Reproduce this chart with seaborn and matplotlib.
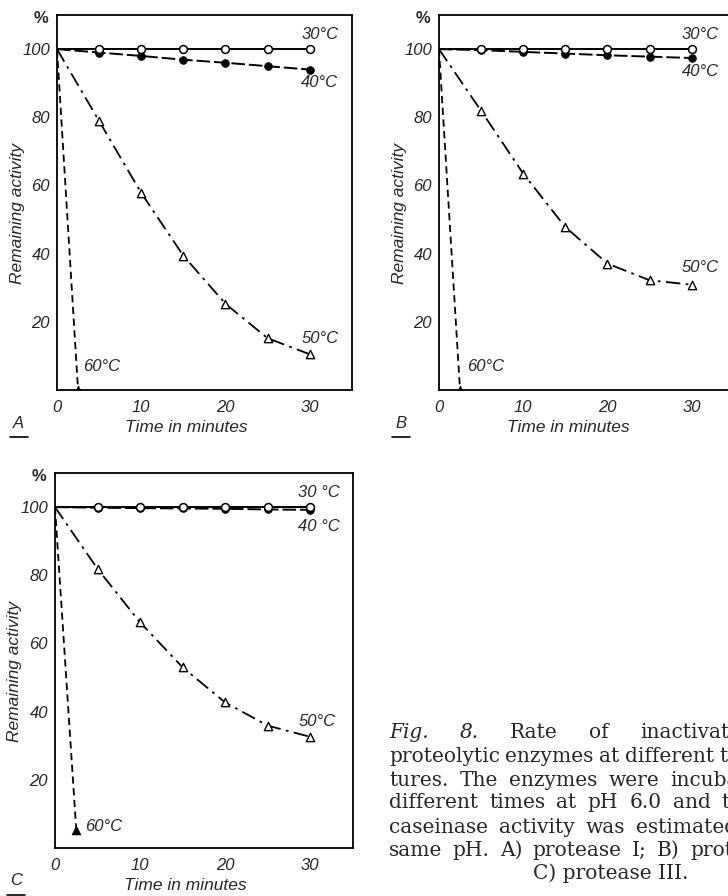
import seaborn as sns
import matplotlib.pyplot as plt
from matplotlib.lines import Line2D

# sampling times (minutes) and remaining activity (%)
times = [0, 5, 10, 15, 20, 25, 30]
times_60 = [0, 2.5]

a_30 = [100, 100, 100, 100, 100, 100, 100]
a_40 = [100, 99.0, 98.0, 96.9, 96.0, 95.0, 94.0]
a_50 = [100, 78.9, 57.8, 39.4, 25.3, 15.2, 10.5]
a_60 = [100, 0]

b_30 = [100, 100, 100, 100, 100, 100, 100]
b_40 = [100, 99.7, 99.2, 98.7, 98.2, 97.8, 97.4]
b_50 = [100, 81.9, 63.5, 47.8, 37.1, 32.2, 30.9]
b_60 = [100, 0]

c_30 = [100, 100, 100, 100, 100, 100, 100]
c_40 = [100, 99.8, 99.7, 99.6, 99.5, 99.3, 99.2]
c_50 = [100, 81.9, 66.2, 53.0, 42.7, 35.9, 32.6]
c_60 = [100, 5.4]

labels_ab = ['30°C', '40°C', '50°C', '60°C']
labels_c = ['30 °C', '40 °C', '50°C', '60°C']

caption = [
    ['Fig.', '8.', 'Rate', 'of', 'inactivation', 'of'],
    ['proteolytic', 'enzymes', 'at', 'different', 'tempera-'],
    ['tures.', 'The', 'enzymes', 'were', 'incubated', 'for'],
    ['different', 'times', 'at', 'pH', '6.0', 'and', 'then', 'the'],
    ['caseinase', 'activity', 'was', 'estimated', 'at', 'the'],
    ['same', 'pH.', 'A)', 'protease', 'I;', 'B)', 'protease', 'II;'],
]
caption_last = 'C) protease III.'

SANS = 'Liberation Sans'
FS = 12


def draw_panel(ax, letter, s30, s40, s50, s60, names, name_pos):
    # curves
    sns.lineplot(x=times, y=s30, color='black', lw=1.4, ax=ax)
    sns.lineplot(x=times, y=s40, color='black', lw=1.4,
                 linestyle=(0, (7, 2)), ax=ax)
    sns.lineplot(x=times, y=s50, color='black', lw=1.3,
                 linestyle=(0, (8, 3, 1.5, 3)), ax=ax)
    sns.lineplot(x=times_60, y=s60, color='black', lw=1.3,
                 linestyle=(0, (4, 2.5)), ax=ax)

    # markers
    sns.scatterplot(x=times[1:], y=s40[1:], marker='o', color='black',
                    s=32, edgecolor='black', zorder=3, ax=ax)
    sns.scatterplot(x=times[1:], y=s30[1:], marker='o', facecolor='white',
                    s=32, edgecolor='black', linewidth=1.1, zorder=4, ax=ax)
    sns.scatterplot(x=times[1:], y=s50[1:], marker='^', facecolor='white',
                    s=36, edgecolor='black', linewidth=1.0, zorder=4, ax=ax)
    sns.scatterplot(x=times_60[1:], y=s60[1:], marker='^', color='black',
                    s=40, edgecolor='black', zorder=4, ax=ax)

    for name, (x, y) in zip(names, name_pos):
        ax.text(x, y, name, family=SANS, style='italic', fontsize=FS,
                va='center', ha='left')

    ax.set_xlim(0, 35)
    ax.set_ylim(0, 110)
    ax.set_xticks([0, 10, 20, 30])
    ax.set_xticks([5, 15, 25], minor=True)
    ax.set_yticks([20, 40, 60, 80, 100])
    ax.set_yticks([10, 30, 50, 70, 90], minor=True)
    ax.tick_params(which='both', direction='in', length=5, width=1.0,
                   labelsize=FS)
    ax.tick_params(axis='x', pad=7)
    ax.tick_params(axis='y', pad=5)
    for lab in ax.get_xticklabels() + ax.get_yticklabels():
        lab.set_family(SANS)
        lab.set_style('italic')
    for sp in ax.spines.values():
        sp.set_visible(True)
        sp.set_linewidth(1.3)
        sp.set_color('black')
    ax.set_xlabel('')
    ax.set_ylabel('')

    ax.text(-0.055, 0.99, '%', transform=ax.transAxes, family=SANS,
            weight='bold', fontsize=FS, ha='center', va='center')
    ax.text(-0.135, 0.47, 'Remaining activity', transform=ax.transAxes,
            family=SANS, style='italic', fontsize=FS + 0.5, rotation=90,
            ha='center', va='center')
    ax.text(0.437, -0.1, 'Time in minutes', transform=ax.transAxes,
            family=SANS, style='italic', fontsize=FS + 0.5,
            ha='center', va='center')
    ax.text(-0.13, -0.088, letter, transform=ax.transAxes, family=SANS,
            style='italic', fontsize=FS, ha='center', va='center')
    ax.add_line(Line2D([-0.16, -0.1], [-0.125, -0.125],
                       transform=ax.transAxes, color='black', lw=1.2,
                       clip_on=False))


sns.set_style('white')
fig = plt.figure(figsize=(7.28, 8.96), dpi=100)

ax_a = fig.add_axes([0.0783, 0.5647, 0.405, 0.4185])
ax_b = fig.add_axes([0.6030, 0.5647, 0.405, 0.4185])
ax_c = fig.add_axes([0.0755, 0.0536, 0.409, 0.4185])

draw_panel(ax_a, 'A', a_30, a_40, a_50, a_60, labels_ab,
           [(29, 104.4), (29, 90.3), (29, 15.2), (3.1, 6.9)])
draw_panel(ax_b, 'B', b_30, b_40, b_50, b_60, labels_ab,
           [(28.8, 104.4), (28.8, 93.5), (28.8, 35.8), (3.3, 6.9)])
draw_panel(ax_c, 'C', c_30, c_40, c_50, c_60, labels_c,
           [(28.6, 104.2), (28.6, 94.4), (28.6, 37.2), (3.5, 6.2)])

# justified caption, right column (cut by the page edge as in the scan)
fig.canvas.draw()
renderer = fig.canvas.get_renderer()
W, H = 728, 896
x0, R = 389, 812
line_y = [733, 757, 780, 803, 827, 850]
for row, (words, y) in enumerate(zip(caption, line_y)):
    arts = []
    for i, w in enumerate(words):
        italic = row == 0 and i < 2
        arts.append(fig.text(0, 1 - y / H, w, family='DejaVu Serif',
                             fontsize=14.5, va='center', ha='left',
                             style='italic' if italic else 'normal'))
    widths = [a.get_window_extent(renderer).width for a in arts]
    gap = (R - x0 - sum(widths)) / (len(words) - 1)
    x = x0
    for a, w in zip(arts, widths):
        a.set_x(x / W)
        x += w + gap
fig.text(533 / W, 1 - 873 / H, caption_last, family='DejaVu Serif',
         fontsize=14.5, va='center', ha='left')

fig.savefig('out.png', dpi=100)
